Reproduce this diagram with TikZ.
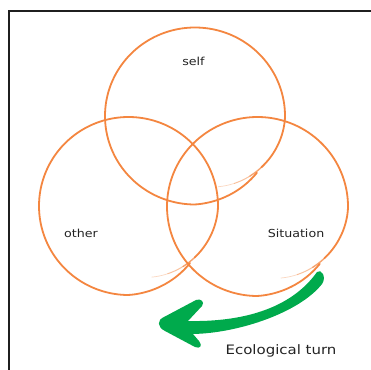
\documentclass[tikz,border=0pt]{standalone}
\usepackage{fontspec}
\setmainfont{DejaVu Sans}[FakeStretch=1.15]
\definecolor{sketchorange}{RGB}{244,134,64}
\definecolor{turngreen}{RGB}{0,170,76}
\definecolor{ink}{RGB}{35,35,35}

% A hand-drawn ring: the stroke starts slightly inside the outline,
% runs once round clockwise and fades out while spiralling inwards.
\newcommand{\sketchring}[4]{%
  \draw[ring] plot[domain=43:398,samples=180,smooth,variable=\t]
    ({#1+#3*hf(\t)*cos(\t)},{#2+#4*hf(\t)*sin(\t)});
  \draw[ring,line width=1.4pt,opacity=.75] plot[domain=398:408,samples=8,smooth,variable=\t]
    ({#1+#3*hf(\t)*cos(\t)},{#2+#4*hf(\t)*sin(\t)});
  \draw[ring,line width=1pt,opacity=.5] plot[domain=408:420,samples=8,smooth,variable=\t]
    ({#1+#3*hf(\t)*cos(\t)},{#2+#4*hf(\t)*sin(\t)});
  \draw[ring,line width=.7pt,opacity=.32] plot[domain=420:432,samples=8,smooth,variable=\t]
    ({#1+#3*hf(\t)*cos(\t)},{#2+#4*hf(\t)*sin(\t)});
}

\begin{document}
\begin{tikzpicture}[x=1pt,y=-1pt,
  declare function={
    hu(\t)=max(0,(\t-360)/72);
    hf(\t)=1-0.06*max(0,(90-\t)/47)-0.16*hu(\t)*sqrt(hu(\t));},
  ring/.style={draw=sketchorange,line width=1.8pt,line cap=round,line join=round},
  wordlabel/.style={font=\fontsize{11}{13}\selectfont,text=ink,anchor=base,inner sep=0pt},
  biglabel/.style={wordlabel,font=\fontsize{13}{15}\selectfont},
]
% page and frame
\fill[white] (0,0) rectangle (371,369);
\useasboundingbox (0,0) rectangle (371,369);
\draw[black!88,line width=1.7pt] (9,375) -- (9,11) -- (380,11);

% centres of the three rings
\coordinate (selfc) at (195,116);
\coordinate (otherc) at (128.5,206);
\coordinate (sitc) at (257.5,206.5);

\sketchring{195}{116}{90}{88.5}
\sketchring{128.5}{206}{89.5}{89}
\sketchring{257.5}{206.5}{90.5}{89.5}

% ring labels
\node[wordlabel] (self) at (193.5,65) {self};
\node[wordlabel] (other) at (81,237.5) {other};
\node[wordlabel] (situation) at (296,237.5) {Situation};

% the turning arrow
\fill[turngreen] (317,272) .. controls (321,268) and (327,277) .. (322,284)
  .. controls (300,312) and (240,333) .. (193,334)
  -- (199,341) .. controls (203,346) and (200,349) .. (195,347)
  -- (165,331) .. controls (157,327) and (157,320) .. (164,317)
  -- (196,300) .. controls (201,298) and (205,302) .. (202,306)
  -- (188,321)
  .. controls (240,322) and (290,310) .. (317,272) -- cycle;

\node[biglabel] (turn) at (281,354) {Ecological turn};
\end{tikzpicture}
\end{document}
